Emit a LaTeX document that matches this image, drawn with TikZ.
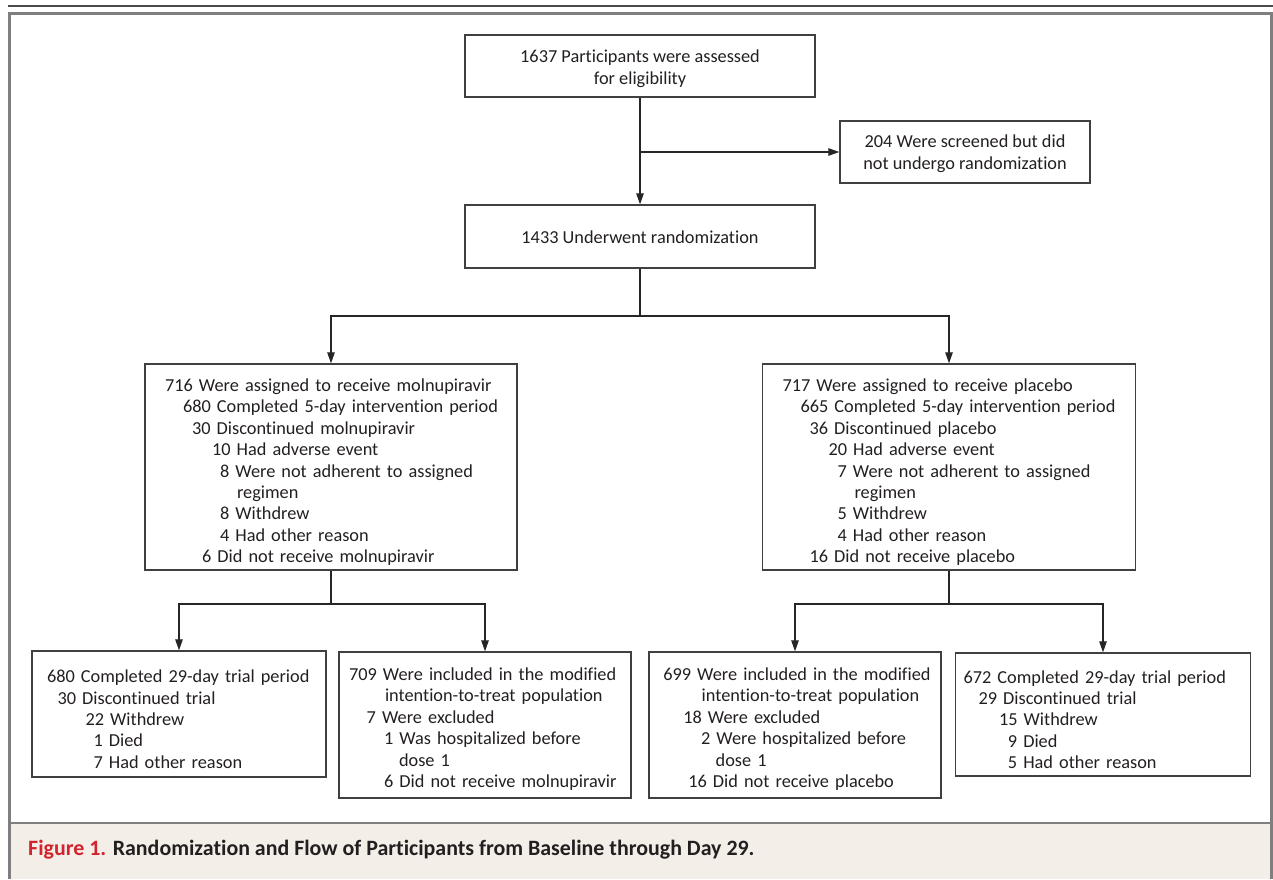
\documentclass[tikz,border=0pt]{standalone}
\usepackage{fontspec}
\setmainfont{Carlito}[Ligatures=NoCommon]
\usetikzlibrary{arrows.meta,positioning}
\definecolor{txt}{HTML}{231F20}
\definecolor{nejmred}{HTML}{D2232E}
\definecolor{capbg}{HTML}{F3EFE8}
\definecolor{framegray}{HTML}{7F7F7F}
\newcommand{\myline}[2]{\hspace*{#1pt}\mbox{#2}}
\newcommand{\tstrut}[1]{\rule{0pt}{#1pt}}
\tikzset{
  box/.style={draw=black!75, line width=1.4pt, rectangle, text=txt,
    font=\fontsize{18.3pt}{21.4pt}\selectfont, inner ysep=0pt},
  cbox/.style={box, align=center, inner xsep=0pt},
  lbox/.style={box, align=left},
  arr/.style={draw=black!85, line width=1.2pt, -{Triangle[length=11pt,width=7.5pt]}},
  conn/.style={draw=black!85, line width=1.2pt}
}
\begin{document}
\begin{tikzpicture}[x=1pt,y=-1pt]
\useasboundingbox (0,0) rectangle (1273,879);
% caption background and frame
\fill[capbg] (10,823) rectangle (1271,879);
\draw[framegray, line width=3pt] (9.5,879) -- (9.5,13) -- (1271.5,13) -- (1271.5,879);
\draw[framegray, line width=2.5pt] (9.5,823) -- (1271.5,823);
\draw[black!70, line width=2pt] (8.3,6) -- (1273,6);
% top boxes
\node[cbox, minimum width=350pt, minimum height=62pt] (A) at (640,66) {\tstrut{18}1637 Participants were assessed\\for eligibility};
\node[cbox, minimum width=250pt, minimum height=62pt] (B) at (965,152) {\tstrut{16}204 Were screened but did\\not undergo randomization};
\node[cbox, minimum width=350pt, minimum height=63pt] (C) at (640,236.5) {\tstrut{15}1433 Underwent randomization};
% arm boxes
\node[lbox, inner xsep=20pt, text width=332pt, minimum height=206pt] (D) at (331,467) {%
\myline{0}{\tstrut{23}716 Were assigned to receive molnupiravir}\\
\myline{18}{680 Completed 5-day intervention period}\\
\myline{27}{30 Discontinued molnupiravir}\\
\myline{47}{10 Had adverse event}\\
\myline{55}{8 Were not adherent to assigned}\\
\myline{72}{regimen}\\
\myline{55}{8 Withdrew}\\
\myline{55}{4 Had other reason}\\
\myline{37}{6 Did not receive molnupiravir}};
\node[lbox, inner xsep=20pt, text width=333pt, minimum height=206pt] (E) at (949,467) {%
\myline{0}{\tstrut{23}717 Were assigned to receive placebo}\\
\myline{18}{665 Completed 5-day intervention period}\\
\myline{27}{36 Discontinued placebo}\\
\myline{46}{20 Had adverse event}\\
\myline{55}{7 Were not adherent to assigned}\\
\myline{72}{regimen}\\
\myline{55}{5 Withdrew}\\
\myline{55}{4 Had other reason}\\
\myline{27}{16 Did not receive placebo}};
% bottom boxes
\node[lbox, inner xsep=15pt, text width=264pt, minimum height=126pt] (F) at (179,714) {%
\myline{0}{\tstrut{23}680 Completed 29-day trial period}\\
\myline{10.5}{30 Discontinued trial}\\
\myline{38.5}{22 Withdrew}\\
\myline{46.5}{1 Died}\\
\myline{46.5}{7 Had other reason}};
\node[lbox, inner xsep=10pt, text width=272pt, minimum height=146pt] (G) at (485,725) {%
\myline{0}{\tstrut{21}709 Were included in the modified}\\
\myline{36}{intention-to-treat population}\\
\myline{17.7}{7 Were excluded}\\
\myline{35}{1 Was hospitalized before}\\
\myline{50}{dose 1}\\
\myline{35}{6 Did not receive molnupiravir}};
\node[lbox, inner xsep=14.3pt, text width=263.4pt, minimum height=146pt] (H) at (795,725) {%
\myline{0}{\tstrut{21}699 Were included in the modified}\\
\myline{38.4}{intention-to-treat population}\\
\myline{20}{18 Were excluded}\\
\myline{37.7}{2 Were hospitalized before}\\
\myline{52.4}{dose 1}\\
\myline{25}{16 Did not receive placebo}};
\node[lbox, inner xsep=8pt, text width=279pt, minimum height=123pt] (I) at (1103,714.5) {%
\myline{0}{\tstrut{23}672 Completed 29-day trial period}\\
\myline{15}{29 Discontinued trial}\\
\myline{35.5}{15 Withdrew}\\
\myline{44.4}{9 Died}\\
\myline{44.4}{5 Had other reason}};
% connectors
\coordinate (j1) at (640,152);
\coordinate (j2) at (640,316);
\coordinate (k1) at (331,604);
\coordinate (k2) at (949,604);
\draw[arr] (A) -- (C);
\draw[arr] (j1) -- (B.west);
\draw[conn] (C.south) -- (j2);
\draw[arr] (j2) -| (D.north);
\draw[arr] (j2) -| (E.north);
\draw[conn] (D.south) -- (k1);
\draw[arr] (k1) -| (F.north);
\draw[arr] (k1) -| (G.north);
\draw[conn] (E.south) -- (k2);
\draw[arr] (k2) -| (H.north);
\draw[arr] (k2) -| (I.north);
% caption
\node[anchor=west, inner sep=0pt, text=txt, font=\bfseries\fontsize{21.9pt}{24pt}\selectfont] (cap) at (28,850) {\textcolor{nejmred}{Figure 1.} Randomization and Flow of Participants from Baseline through Day 29.};
\end{tikzpicture}
\end{document}
